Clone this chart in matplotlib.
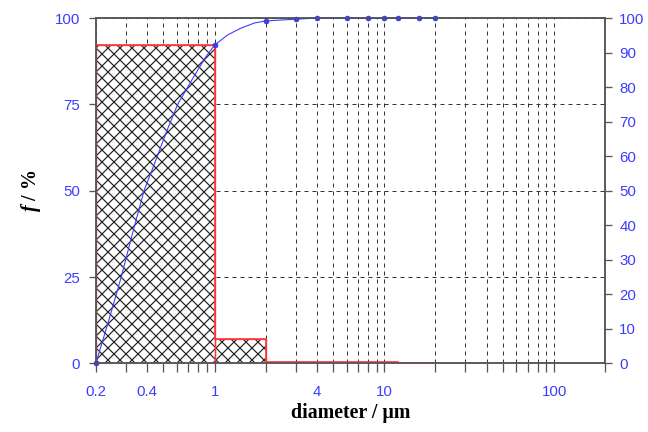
import matplotlib
matplotlib.use('Agg')
import matplotlib.pyplot as plt
from matplotlib.ticker import FixedLocator, FuncFormatter

# datos: histograma (bordes de clase y frecuencia en %)
bin_edges = [0.2, 1, 2, 12, 20]
bin_freq = [92.2, 7.0, 0.5, 0.0]

# curva acumulada (suave) y puntos medidos
curve_d = [0.2, 0.24, 0.282, 0.33, 0.384, 0.44, 0.52, 0.606, 0.76, 0.88, 1.0,
           1.2, 1.43, 1.72, 2.0, 3, 4, 6, 8, 10, 12, 16, 20]
curve_f = [0, 13, 25, 38, 50, 57.5, 67, 75, 83.3, 88.5, 92.2,
           95.2, 97.1, 98.6, 99.2, 99.7, 100, 100, 100, 100, 100, 100, 100]
point_d = [0.2, 1, 2, 3, 4, 6, 8, 10, 12, 16, 20]
point_f = [0, 92.2, 99.2, 99.7, 100, 100, 100, 100, 100, 100, 100]

x_ticks = [0.2, 0.3, 0.4, 0.5, 0.6, 0.7, 0.8, 0.9, 1, 2, 3, 4, 5, 6, 7, 8, 9, 10,
           20, 30, 40, 50, 60, 70, 80, 90, 100, 200]
x_labels = {0.2: '0.2', 0.4: '0.4', 1: '1', 4: '4', 10: '10', 100: '100'}
y_left_ticks = [0, 25, 50, 75, 100]
y_right_ticks = [0, 10, 20, 30, 40, 50, 60, 70, 80, 90, 100]

azul = '#3c3cff'
gris = '#555555'
rojo = '#ff3333'

plt.rcParams['hatch.linewidth'] = 1.2
plt.rcParams['mathtext.fontset'] = 'custom'
plt.rcParams['mathtext.it'] = 'Liberation Serif:italic:bold'

fig = plt.figure(figsize=(9, 6), dpi=72)
ax = fig.add_axes([0.148, 0.159, 0.786, 0.799])

widths = [b - a for a, b in zip(bin_edges[:-1], bin_edges[1:])]
ax.bar(bin_edges[:-1], bin_freq, width=widths, align='edge', facecolor='white',
       edgecolor='#222222', hatch='xx', linewidth=0, zorder=2)
ax.bar(bin_edges[:-1], bin_freq, width=widths, align='edge', fill=False,
       edgecolor=rojo, linewidth=1.3, zorder=2.4)
ax.stairs(bin_freq, bin_edges, baseline=None, color=rojo, linewidth=1.6, zorder=3)

ax.plot(curve_d, curve_f, color=azul, linewidth=1.1, zorder=4, clip_on=False)
ax.plot(point_d, point_f, 'o', color=azul, markersize=5, zorder=5, clip_on=False,
        markeredgecolor='#2222cc', markeredgewidth=0.5)

ax.set_xscale('log')
ax.set_xlim(0.2, 200)
ax.set_ylim(0, 100)
ax.xaxis.set_major_locator(FixedLocator(x_ticks))
ax.xaxis.set_minor_locator(FixedLocator([]))
ax.xaxis.set_major_formatter(FuncFormatter(lambda v, p: x_labels.get(round(v, 3), '')))
ax.set_yticks(y_left_ticks)

ax.set_axisbelow(True)
ax.grid(True, linestyle=(0, (4, 4)), color='#333333', linewidth=1.0)

ax.tick_params(axis='x', direction='out', length=9, width=1.3, color=gris, pad=13,
               labelsize=15, labelcolor=azul)
ax.tick_params(axis='y', direction='out', length=7, width=1.3, color=gris, pad=9,
               labelsize=15, labelcolor=azul)
for lbl in ax.get_xticklabels() + ax.get_yticklabels():
    lbl.set_fontfamily('Liberation Sans')

for s in ax.spines.values():
    s.set_color(gris)
    s.set_linewidth(1.5)

ax2 = ax.twinx()
ax2.set_ylim(0, 100)
ax2.set_yticks(y_right_ticks)
ax2.tick_params(axis='y', direction='out', length=7, width=1.3, color=gris, pad=7,
                labelsize=15, labelcolor=azul)
for lbl in ax2.get_yticklabels():
    lbl.set_fontfamily('Liberation Sans')
for s in ax2.spines.values():
    s.set_color(gris)
    s.set_linewidth(1.5)

ax.set_xlabel('diameter / µm', fontfamily='Liberation Serif', fontweight='bold',
              fontsize=20, labelpad=4)
ax.set_ylabel('$f$ / %', fontfamily='Liberation Serif', fontweight='bold',
              fontsize=20, labelpad=12)

fig.savefig('out.png', dpi=72)
